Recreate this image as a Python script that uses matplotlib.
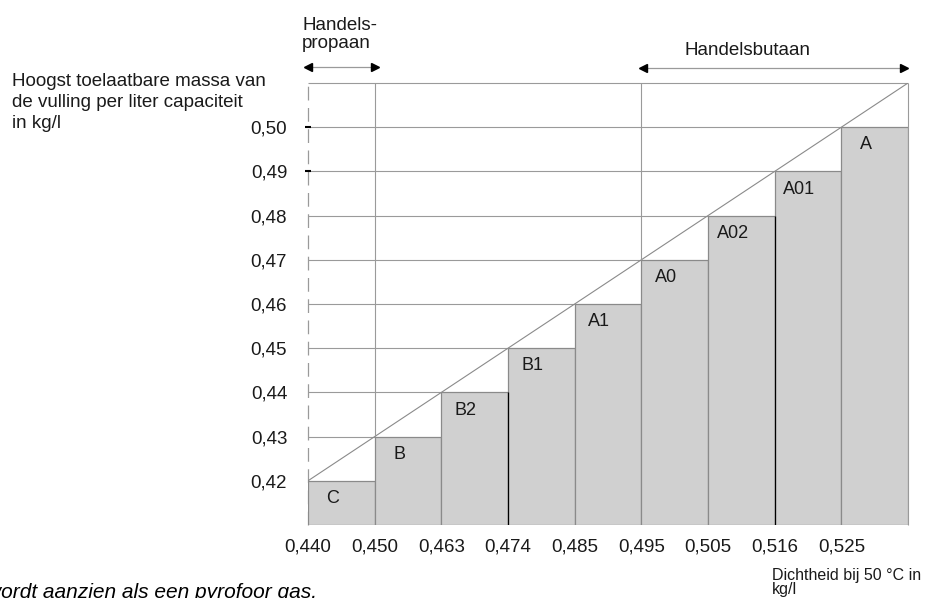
import matplotlib
matplotlib.use('Agg')
import matplotlib.pyplot as plt
from matplotlib.lines import Line2D

plt.rcParams['font.family'] = ['Liberation Sans', 'DejaVu Sans']

# ---- data ----
categories = ['C', 'B', 'B2', 'B1', 'A1', 'A0', 'A02', 'A01', 'A']
values = [0.42, 0.43, 0.44, 0.45, 0.46, 0.47, 0.48, 0.49, 0.50]
density_labels = ['0,440', '0,450', '0,463', '0,474', '0,485',
                  '0,495', '0,505', '0,516', '0,525']
ytick_labels = ['0,42', '0,43', '0,44', '0,45', '0,46',
                '0,47', '0,48', '0,49', '0,50']
propane_end = 1     # index where commercial propane range ends
butane_start = 5    # index where commercial butane range starts

W, H = 932, 598
fig = plt.figure(figsize=(W / 100, H / 100), dpi=100)
ax = fig.add_axes([308 / W, (H - 525) / H, 600 / W, 442 / H])
ymin, ymax = 0.41, 0.51
n = len(values)
ax.set_xlim(0, n)
ax.set_ylim(ymin, ymax)
for s in ax.spines.values():
    s.set_visible(False)

grey = '#9a9a9a'
txtc = '#1a1a1a'
x = list(range(n))

# bars
ax.bar(x, [v - ymin for v in values], bottom=ymin, width=1, align='edge',
       color='#d0d0d0', edgecolor='#8a8a8a', linewidth=0.9, zorder=3)

# horizontal level lines from left axis to the bar of that level
for i, v in enumerate(values):
    if i > 0:
        ax.hlines(v, 0, i, color=grey, lw=0.8, zorder=1)
ax.hlines(ymax, 0, n, color=grey, lw=0.8, zorder=1, clip_on=False)
# right border
ax.vlines(n, ymin, ymax, color=grey, lw=0.8, zorder=1, clip_on=False)
# left dashed axis
ax.vlines(0, ymin, ymax, color=grey, lw=0.9, linestyles=(0, (11, 6)),
          zorder=1, clip_on=False)
# small black ticks at top levels
ax.plot([0, 0], values[-2:], ls='none', marker='_', ms=4, mew=1.5,
        color='black', zorder=4, clip_on=False)
# diagonal through the bar corners
step = values[1] - values[0]
ax.plot([0, n], [values[0], values[-1] + step], color='#8a8a8a', lw=0.8,
        zorder=1)
# range boundaries
ax.vlines([propane_end, butane_start],
          [values[propane_end], values[butane_start]], ymax,
          color=grey, lw=0.8, zorder=1)
# darker edges (as in reference)
ax.vlines([3, 7], ymin, [values[2], values[6]], color='black', lw=0.9,
          zorder=4)

# bar labels
for i, (c, v) in enumerate(zip(categories, values)):
    ax.text(i + 0.37, v - 0.004, c, ha='center', va='center',
            fontsize=13, color=txtc, zorder=5)

# ticks
ax.set_xticks(x)
ax.set_xticklabels(density_labels, fontsize=13.5, color=txtc)
ax.tick_params(axis='x', length=0, pad=10)
ax.set_yticks(values)
ax.set_yticklabels(ytick_labels, fontsize=13.5, color=txtc)
ax.tick_params(axis='y', length=0, pad=15)

def fx(px):
    return px / W

def fy(py):
    return 1 - py / H

# y-axis title
for txt, yb in [('Hoogst toelaatbare massa van', 86),
                ('de vulling per liter capaciteit', 107),
                ('in kg/l', 128)]:
    fig.text(fx(12), fy(yb), txt, fontsize=13.5, va='baseline', color=txtc)

# range labels
fig.text(fx(302), fy(30), 'Handels-', fontsize=13.5, va='baseline',
         color=txtc)
fig.text(fx(302), fy(48), 'propaan', fontsize=13.5, va='baseline',
         color=txtc)
fig.text(fx(748), fy(55), 'Handelsbutaan', fontsize=13.5, va='baseline',
         ha='center', color=txtc)

def darrow(x0, x1, y):
    fig.add_artist(Line2D([fx(x0 + 3), fx(x1 - 3)], [fy(y), fy(y)],
                          color=grey, lw=0.9))
    fig.add_artist(Line2D([fx(x0 + 3)], [fy(y)], marker='<', ms=6,
                          color='black', ls='none'))
    fig.add_artist(Line2D([fx(x1 - 3)], [fy(y)], marker='>', ms=6,
                          color='black', ls='none'))

darrow(305, 378, 67)
darrow(640, 907, 68)

# x-axis title
fig.text(fx(772), fy(580), 'Dichtheid bij 50 \u00b0C in', fontsize=11.5,
         va='baseline', color=txtc)
fig.text(fx(772), fy(594), 'kg/l', fontsize=11.5, va='baseline', color=txtc)

# footer (cut off at the edges in the reference)
fig.text(fx(-14), fy(598), 'wordt aanzien als een pyrofoor gas.',
         fontsize=15, style='italic', va='baseline', color='black')

fig.savefig('out.png', dpi=100)
